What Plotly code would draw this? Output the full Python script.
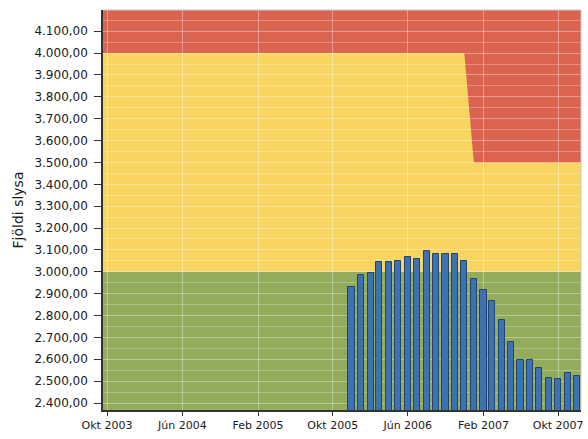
import plotly.graph_objects as go

# Monthly totals (12-month rolling count)
months = [
    "2005-12-01", "2006-01-01", "2006-02-01", "2006-03-01", "2006-04-01",
    "2006-05-01", "2006-06-01", "2006-07-01", "2006-08-01", "2006-09-01",
    "2006-10-01", "2006-11-01", "2006-12-01", "2007-01-01", "2007-02-01",
    "2007-03-01", "2007-04-01", "2007-05-01", "2007-06-01", "2007-07-01",
    "2007-08-01", "2007-09-01", "2007-10-01", "2007-11-01", "2007-12-01",
]
counts = [
    2931, 2985, 2993, 3045, 3045,
    3050, 3066, 3060, 3094, 3080,
    3080, 3080, 3048, 2966, 2918,
    2866, 2779, 2680, 2596, 2596,
    2558, 2514, 2512, 2535, 2523,
]

# Target zones: green below the lower limit, yellow up to the upper limit, red above
limit_dates = ["2003-09-01", "2006-12-01", "2007-01-01", "2007-12-31"]
upper_limit = [4000, 4000, 3500, 3500]
lower_limit = 3000

tick_dates = ["2003-10-01", "2004-06-01", "2005-02-01", "2005-10-01",
              "2006-06-01", "2007-02-01", "2007-10-01"]
tick_labels = ["Okt 2003", "Jún 2004", "Feb 2005", "Okt 2005",
               "Jún 2006", "Feb 2007", "Okt 2007"]

x_range = ["2003-09-18", "2007-12-14"]
y_range = [2368, 4197]

RED = "#da6450"
YELLOW = "#f8d561"
GREEN = "#93ac5b"

y_lo, y_hi = 2000, 5000
x0, x1 = limit_dates[0], limit_dates[-1]

path = f"M {x0},{y_hi} " + " ".join(
    f"L {d},{v}" for d, v in zip(limit_dates, upper_limit)
) + f" L {x1},{y_hi} Z"

shapes = [
    dict(type="rect", xref="x", yref="y", x0=x0, x1=x1, y0=lower_limit, y1=y_hi,
         fillcolor=YELLOW, line_width=0, layer="below"),
    dict(type="path", xref="x", yref="y", path=path,
         fillcolor=RED, line_width=0, layer="below"),
    dict(type="rect", xref="x", yref="y", x0=x0, x1=x1, y0=y_lo, y1=lower_limit,
         fillcolor=GREEN, line_width=0, layer="below"),
    # light frame on the top and right edges
    dict(type="line", xref="paper", yref="paper", x0=0, x1=1, y0=1, y1=1,
         line=dict(color="#c8c8c8", width=1), layer="above"),
    dict(type="line", xref="paper", yref="paper", x0=1, x1=1, y0=0, y1=1,
         line=dict(color="#c8c8c8", width=1), layer="above"),
]

fig = go.Figure()
fig.add_trace(go.Bar(
    x=months, y=counts,
    width=20 * 86400000,
    marker=dict(color="#3d72b2", line=dict(color="#22446e", width=1)),
    showlegend=False,
))

fig.update_layout(
    width=588, height=439,
    margin=dict(l=103, r=5, t=10, b=29),
    paper_bgcolor="white",
    plot_bgcolor="white",
    separators=",.",
    font=dict(family="DejaVu Sans", color="#1a1a1a", size=11),
    shapes=shapes,
    bargap=0,
    xaxis=dict(
        type="date", range=x_range,
        tickvals=tick_dates, ticktext=tick_labels,
        tickfont=dict(size=11),
        ticks="outside", ticklen=4, tickcolor="#333333",
        showgrid=True, gridcolor="rgba(255,255,255,0.35)", gridwidth=1,
        showline=True, linecolor="#333333", linewidth=1.5,
        zeroline=False,
    ),
    yaxis=dict(
        range=y_range, dtick=100, tick0=0,
        tickformat=",.2f",
        tickfont=dict(size=12),
        ticks="outside", ticklen=7, tickcolor="#333333",
        ticklabelstandoff=4,
        showgrid=True, gridcolor="rgba(255,255,255,0.35)", gridwidth=1,
        minor=dict(dtick=50, showgrid=True, gridcolor="rgba(255,255,255,0.25)"),
        showline=True, linecolor="#333333", linewidth=1.5,
        zeroline=False,
        title=dict(text="Fjöldi slysa", font=dict(size=14), standoff=8),
    ),
)

fig.write_html("out.html")
